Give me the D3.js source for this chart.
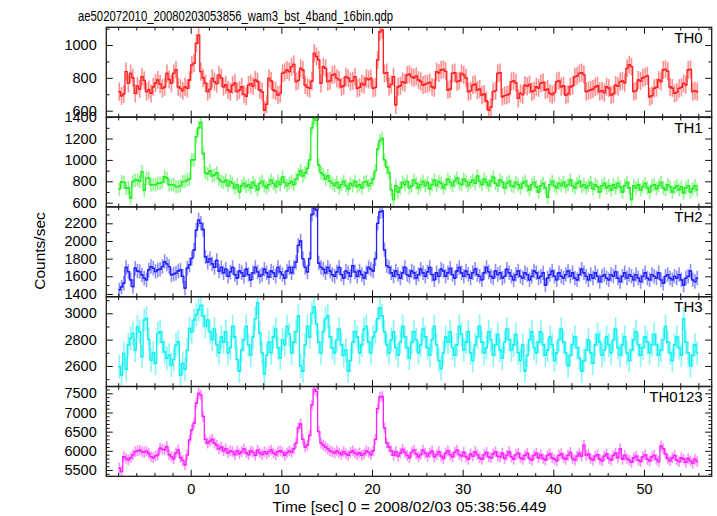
<!DOCTYPE html>
<html><head><meta charset="utf-8">
<script src="https://cdn.jsdelivr.net/npm/d3@7"></script>
<style>
body{margin:0;background:#fff}
svg text{font-family:"Liberation Sans",Arial,Helvetica,sans-serif;fill:#000}
</style>
</head><body><svg id="c" width="717" height="516"></svg>
<script>
const title = "ae502072010_20080203053856_wam3_bst_4band_16bin.qdp";
const xLabel = "Time [sec] 0 = 2008/02/03 05:38:56.449";
const yLabel = "Counts/sec";
const bandNames = ["TH0", "TH1", "TH2", "TH3", "TH0123"];
const tStart = -7.875, binWidth = 0.25;
const xDomain = [-9.31, 57.47];
const xMajorTicks = [0, 10, 20, 30, 40, 50];

const th0 = [716,690,702,838,766,827,800,705,750,732,
807,785,716,728,705,746,768,787,762,736,
745,827,790,766,827,850,746,736,722,745,
736,787,878,890,1010,1060,838,800,766,716,
730,797,777,765,817,800,746,758,726,715,
756,768,716,725,746,700,688,756,765,750,
787,778,726,715,604,640,797,782,726,718,
695,705,827,835,848,838,868,882,777,785,
858,848,756,742,736,780,949,930,909,766,
868,858,777,782,817,822,797,788,746,752,
807,798,777,782,807,736,742,766,758,797,
790,797,736,742,909,1081,1091,827,832,746,
760,807,635,746,752,777,770,817,822,807,
800,810,787,778,756,762,766,772,746,738,
838,830,848,852,840,726,732,827,832,777,
782,827,818,800,716,722,756,762,726,732,
695,702,660,604,622,716,722,827,832,685,
692,695,702,777,782,770,675,705,698,756,
748,760,716,722,746,738,766,772,726,732,
705,698,710,777,782,746,752,695,702,746,
752,807,812,827,832,820,716,722,726,732,
746,752,716,722,710,746,738,695,702,756,
748,777,782,770,858,880,868,716,722,787,
780,800,807,812,685,692,736,742,787,778,
848,852,840,746,738,705,712,736,742,766,
758,848,852,716,722,716];

const th1 = [728,798,790,735,740,644,798,810,813,800,
891,716,828,830,766,770,766,782,780,790,
844,830,766,770,766,751,750,760,798,800,
813,820,1000,1000,1217,1300,1350,1060,880,870,
900,850,860,880,820,800,790,810,760,800,
780,740,770,700,760,780,750,770,740,790,
760,720,780,800,760,740,770,810,780,750,
800,770,840,790,760,780,800,770,820,860,
900,850,880,920,1000,1300,1390,1370,950,880,
860,820,850,800,780,760,790,740,770,800,
760,730,780,760,800,750,770,740,790,800,
760,780,820,900,1100,1180,1200,1000,930,880,
720,630,760,700,740,790,770,800,740,760,
810,780,740,770,800,760,790,730,770,810,
760,800,780,740,770,820,790,760,800,830,
780,770,820,800,760,790,810,780,850,800,
770,820,790,760,800,840,780,760,810,790,
740,780,800,760,750,790,770,740,780,800,
760,720,770,790,750,700,760,780,740,650,
770,800,760,740,780,760,790,750,770,810,
760,740,780,800,750,770,740,760,790,730,
770,750,700,760,780,740,760,720,770,740,
780,750,700,760,790,740,630,760,740,770,
720,750,780,740,700,760,770,730,760,790,
740,720,770,750,700,740,760,720,750,690,
740,760,700,730,760,720];

const th2 = [1446,1480,1522,1700,1654,1560,1484,1691,1660,1654,
1616,1580,1559,1672,1710,1690,1654,1672,1680,1710,
1767,1740,1710,1616,1625,1635,1660,1672,1600,1465,
1691,1729,1804,1898,2124,2237,2200,2130,1820,1760,
1800,1740,1700,1780,1660,1700,1640,1680,1600,1650,
1700,1620,1580,1660,1640,1600,1680,1620,1560,1640,
1700,1650,1600,1620,1680,1640,1590,1660,1640,1600,
1700,1650,1620,1580,1660,1700,1640,1700,1760,1950,
2000,1800,1700,1650,1800,2300,2370,2350,1750,1700,
1680,1640,1700,1660,1620,1600,1650,1700,1620,1580,
1660,1640,1600,1720,1650,1600,1660,1620,1580,1640,
1700,1680,1660,1800,2200,2330,2340,1900,1720,1700,
1640,1600,1660,1620,1580,1640,1700,1620,1600,1660,
1640,1580,1620,1680,1640,1600,1650,1700,1620,1560,
1640,1600,1680,1660,1600,1640,1690,1620,1580,1660,
1700,1640,1600,1660,1620,1580,1640,1680,1620,1600,
1560,1640,1700,1650,1600,1580,1660,1620,1640,1580,
1600,1680,1640,1600,1560,1620,1660,1600,1580,1640,
1620,1560,1600,1660,1640,1580,1600,1640,1500,1580,
1620,1660,1600,1560,1640,1600,1580,1620,1660,1600,
1640,1580,1560,1620,1680,1640,1600,1560,1620,1580,
1640,1600,1540,1600,1620,1580,1560,1620,1600,1650,
1580,1540,1600,1640,1580,1620,1600,1560,1620,1580,
1540,1600,1640,1580,1560,1620,1600,1580,1640,1560,
1520,1600,1620,1580,1560,1600,1580,1620,1560,1500,
1580,1600,1660,1560,1540,1580];

const th3 = [2594,2531,2696,2575,2760,2810,2848,2721,2898,2860,
2670,2949,2962,2800,2645,2700,2620,2848,2860,2780,
2708,2657,2683,2607,2650,2760,2784,2531,2620,2575,
2721,2886,2860,2949,2990,3025,3060,2980,2900,2950,
2860,2800,2880,2760,2700,2820,2780,2860,2700,2740,
2900,2820,2650,2560,2720,2800,2900,2760,2680,2820,
2960,3080,2850,2700,2540,2680,2780,2700,2820,2880,
2740,2660,2800,2760,2900,2840,2700,2780,2860,2980,
2600,2560,2760,2900,2820,3000,3050,2920,2780,2700,
2860,2960,2980,2820,2740,2700,2800,2880,2760,2680,
2720,2560,2640,2780,2860,2820,2700,2760,2880,2900,
2780,2700,2820,2860,2960,3040,2980,2860,2760,2700,
2800,2860,2740,2680,2780,2900,2820,2740,2660,2780,
2860,2800,2700,2760,2880,2820,2740,2680,2800,2900,
2760,2640,2580,2700,2820,2780,2860,2740,2680,2760,
2900,2840,2720,2780,2860,2700,2640,2760,2820,2900,
2780,2700,2740,2860,2800,2680,2760,2840,2720,2660,
2780,2880,2800,2720,2760,2840,2700,2640,2760,2560,
2680,2800,2860,2740,2700,2780,2860,2760,2680,2720,
2820,2760,2640,2700,2800,2880,2780,2700,2600,2680,
2760,2820,2740,2660,2560,2640,2720,2800,2700,2620,
2760,2840,2780,2680,2720,2820,2760,2700,2800,2880,
2740,2680,2760,2820,2700,2640,2720,2800,2860,2760,
2680,2740,2820,2780,2700,2760,2840,2760,2680,2720,
2800,2900,2780,2700,2640,2760,2820,2740,2680,2960,
2780,2700,2600,2680,2760,2700];

const th0123 = [5547,5459,5849,5800,5762,5820,5893,5980,6000,6020,
5980,5960,5990,5930,5849,5820,5870,5893,6068,6040,
6023,6110,5900,5849,5790,5950,6023,5820,5750,5633,
5893,6284,6545,6720,7240,7500,7450,6900,6300,6200,
6250,6300,6200,6150,6050,6100,6000,6050,5950,6000,
5980,5900,6000,5920,5980,6050,5950,5900,6000,5960,
5880,6020,5950,5900,5980,5920,5980,6020,5950,5900,
5980,6000,5960,5880,5950,6000,5960,6050,6200,6600,
6700,6300,6100,6150,6400,7200,7600,7550,6500,6200,
6150,6100,6050,6000,5980,5940,6000,5950,5900,5980,
5920,5880,5960,6000,5940,5900,5950,5880,5920,6000,
5960,5900,6000,6300,7100,7400,7420,6600,6200,6100,
6000,5880,5980,5860,5940,6040,5960,5880,5820,5960,
6020,5920,5840,5900,6020,5940,5860,5940,5990,5840,
5900,5980,5860,5800,5940,6000,5900,5840,5960,6020,
5900,5860,5960,5840,5780,5920,5860,5980,5900,5820,
5780,5900,5960,5840,5820,5920,5980,5860,5840,5940,
5800,5880,5980,5840,5780,5900,5940,5820,5780,5880,
5940,5800,5760,5880,5940,5820,5900,5800,5760,5880,
5920,5820,5780,5740,5880,5920,5820,5780,5880,5960,
5800,5760,5860,5940,5860,6150,5880,5920,5800,5760,
5860,5900,5780,5740,5860,5920,5800,5760,5880,5940,
5820,6060,5780,5880,5800,5760,5700,5820,5860,5760,
5720,5840,5900,5780,5740,5840,5880,5780,5720,6120,
6060,5920,5800,5740,5820,5880,5760,5720,5820,5780,
5700,5800,5740,5680,5780,5720];

const seriesValues = [th0, th1, th2, th3, th0123];
const errHalf = [55, 62, 82, 90, 140];
const yDomains = [[561, 1108], [561, 1400], [1369, 2386], [2444, 3126], [5336, 7677]];
const yMajorTicks = [[600, 800, 1000], [600, 800, 1000, 1200, 1400], [1400, 1600, 1800, 2000, 2200], [2600, 2800, 3000], [5500, 6000, 6500, 7000, 7500]];
const lineColors = ["#ff2020", "#22ee22", "#2020ff", "#10f0f0", "#ff20ff"];

const svg = d3.select("#c");
const L = 106.3, R = 711.7, T = 27.3, B = 476.3;
const ph = (B - T) / 5;
const x = d3.scaleLinear().domain(xDomain).range([L, R]);
const time = th0.map((_, i) => tStart + i * binWidth);
const fontF = '"Liberation Sans",Arial,Helvetica,sans-serif';

const xMinorTicks = d3.range(-8, 58, 2).filter(v => v % 10 !== 0);

function styleAxis(g) {
  g.select(".domain").remove();
  g.selectAll(".tick line").attr("stroke", "#111").attr("stroke-width", 1);
  g.selectAll("text").attr("font-family", fontF).attr("font-size", 14.5).attr("fill", "#000");
}

seriesValues.forEach((vals, k) => {
  const y0 = T + k * ph, y1 = T + (k + 1) * ph;
  const y = d3.scaleLinear().domain(yDomains[k]).range([y1, y0]);
  const g = svg.append("g");
  const clipId = "clip" + k;
  svg.append("clipPath").attr("id", clipId).append("rect")
    .attr("x", L).attr("y", y0).attr("width", R - L).attr("height", y1 - y0);
  const data = vals.map((v, i) => ({t: time[i], v: v}));
  const e = errHalf[k];
  const pg = g.append("g").attr("clip-path", `url(#${clipId})`);
  pg.selectAll("line.err").data(data).join("line").attr("class", "err")
    .attr("x1", d => x(d.t)).attr("x2", d => x(d.t))
    .attr("y1", d => y(d.v - e)).attr("y2", d => y(d.v + e))
    .attr("stroke", lineColors[k]).attr("stroke-opacity", 0.5).attr("stroke-width", 1.6);
  const line = d3.line().x(d => x(d.t)).y(d => y(d.v)).curve(d3.curveStep);
  pg.append("path").datum(data).attr("d", line)
    .attr("fill", "none").attr("stroke", lineColors[k]).attr("stroke-width", 1.3);
  pg.selectAll("line.bin").data(data).join("line").attr("class", "bin")
    .attr("x1", d => x(d.t - binWidth / 2)).attr("x2", d => x(d.t + binWidth / 2))
    .attr("y1", d => y(d.v)).attr("y2", d => y(d.v))
    .attr("stroke", lineColors[k]).attr("stroke-width", 1.3);

  const dom = yDomains[k];
  const yMinor = d3.range(Math.ceil(dom[0] / 100) * 100, dom[1], 100).filter(v => !yMajorTicks[k].includes(v));
  g.append("g").attr("transform", `translate(${L},0)`)
    .call(d3.axisLeft(y).tickValues(yMajorTicks[k]).tickSize(-6.5).tickPadding(9.6).tickFormat(d3.format("d")))
    .call(styleAxis);
  g.append("g").attr("transform", `translate(${L},0)`)
    .call(d3.axisLeft(y).tickValues(yMinor).tickSize(-3.3).tickFormat(""))
    .call(styleAxis);
  g.append("g").attr("transform", `translate(${R},0)`)
    .call(d3.axisRight(y).tickValues(yMajorTicks[k]).tickSize(-6.5).tickFormat(""))
    .call(styleAxis);
  g.append("g").attr("transform", `translate(${R},0)`)
    .call(d3.axisRight(y).tickValues(yMinor).tickSize(-3.3).tickFormat(""))
    .call(styleAxis);
  g.append("g").attr("transform", `translate(0,${y0})`)
    .call(d3.axisTop(x).tickValues(xMajorTicks).tickSize(-6.5).tickFormat(""))
    .call(styleAxis);
  g.append("g").attr("transform", `translate(0,${y0})`)
    .call(d3.axisTop(x).tickValues(xMinorTicks).tickSize(-3.3).tickFormat(""))
    .call(styleAxis);
  g.append("g").attr("transform", `translate(0,${y1})`)
    .call(d3.axisBottom(x).tickValues(xMajorTicks).tickSize(-6.5).tickPadding(7)
      .tickFormat(k === 4 ? d3.format("d") : ""))
    .call(styleAxis);
  g.append("g").attr("transform", `translate(0,${y1})`)
    .call(d3.axisBottom(x).tickValues(xMinorTicks).tickSize(-3.3).tickFormat(""))
    .call(styleAxis);
  g.append("rect").attr("x", L).attr("y", y0).attr("width", R - L).attr("height", y1 - y0)
    .attr("fill", "none").attr("stroke", "#1a1a1a").attr("stroke-width", 1.3);
  g.append("text").attr("x", 702.7).attr("y", y0 + 15.4).attr("text-anchor", "end")
    .attr("font-size", 15).text(bandNames[k]);
});

svg.append("text").attr("x", 78).attr("y", 20.5).attr("font-size", 14)
  .attr("textLength", 315).attr("lengthAdjust", "spacingAndGlyphs").text(title);
svg.append("text").attr("x", (L + R) / 2 + 0.5).attr("y", 511.5).attr("text-anchor", "middle")
  .attr("font-size", 15.5).text(xLabel);
svg.append("text").attr("transform", "translate(45,251) rotate(-90)").attr("text-anchor", "middle")
  .attr("font-size", 15.5).text(yLabel);
</script>
</body></html>
